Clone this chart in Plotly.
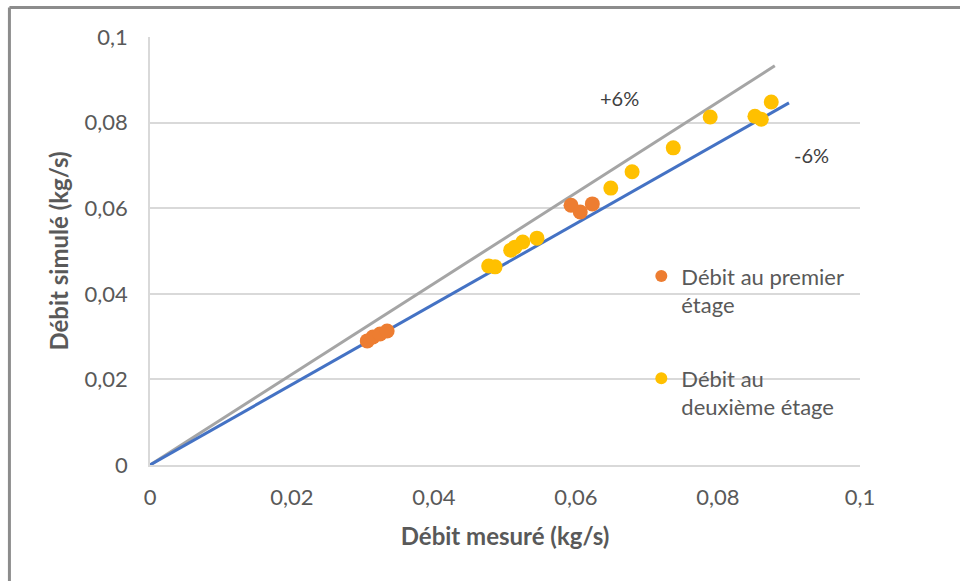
import plotly.graph_objects as go

# Data
x_premier = [0.0306, 0.0314, 0.0324, 0.0334, 0.0593, 0.0606, 0.0623]
y_premier = [0.0290, 0.0299, 0.0306, 0.0313, 0.0607, 0.0591, 0.0610]
x_deuxieme = [0.0477, 0.0486, 0.0508, 0.0514, 0.0525, 0.0545, 0.0649, 0.0679,
              0.0737, 0.0789, 0.0852, 0.0861, 0.0875]
y_deuxieme = [0.0465, 0.0463, 0.0502, 0.0509, 0.0521, 0.0530, 0.0647, 0.0685,
              0.0741, 0.0813, 0.0815, 0.0808, 0.0848]
x_plus6 = [0, 0.088]
y_plus6 = [0, 0.088 * 1.06]
x_moins6 = [0, 0.090]
y_moins6 = [0, 0.090 * 0.94]
tick_vals = [0, 0.02, 0.04, 0.06, 0.08, 0.1]

FONT = "Lato"
TXT = "#595959"

fig = go.Figure()
fig.add_trace(go.Scatter(x=x_plus6, y=y_plus6, mode="lines",
                         line=dict(color="#a5a5a5", width=3), showlegend=False,
                         hoverinfo="skip"))
fig.add_trace(go.Scatter(x=x_moins6, y=y_moins6, mode="lines",
                         line=dict(color="#4472c4", width=3), showlegend=False,
                         hoverinfo="skip"))
fig.add_trace(go.Scatter(x=x_premier, y=y_premier, mode="markers",
                         name="Débit au premier<br>étage", legendgroup="a",
                         marker=dict(color="#ed7d31", size=15)))
fig.add_trace(go.Scatter(x=x_deuxieme, y=y_deuxieme, mode="markers",
                         name="Débit au<br>deuxième étage", legendgroup="b",
                         marker=dict(color="#ffc000", size=15)))

fig.add_annotation(x=0.0661, y=0.0857, text="+6%", showarrow=False,
                   font=dict(size=20, color="#404040", family=FONT))
fig.add_annotation(x=0.0932, y=0.0724, text="-6%", showarrow=False,
                   font=dict(size=20, color="#404040", family=FONT))

# outer frame (top and left edges visible)
fig.add_shape(type="line", xref="paper", yref="paper", x0=-0.198, x1=1.2,
              y0=1.069, y1=1.069, line=dict(color="#8c8c8c", width=3))
fig.add_shape(type="line", xref="paper", yref="paper", x0=-0.198, x1=-0.198,
              y0=1.069, y1=-0.3, line=dict(color="#8c8c8c", width=3))

fig.update_layout(
    width=960, height=581,
    margin=dict(l=150, r=100, t=37, b=116),
    paper_bgcolor="white", plot_bgcolor="white",
    separators=", ",
    font=dict(family=FONT, color=TXT, size=22),
    showlegend=True,
    legend=dict(x=0.692, y=0.49, xanchor="left", yanchor="top",
                font=dict(size=22, color=TXT, family=FONT),
                traceorder="grouped", tracegroupgap=42, valign="top",
                itemsizing="constant", bgcolor="rgba(0,0,0,0)"),
    xaxis=dict(range=[0, 0.1], tickvals=tick_vals, showgrid=False,
               showline=True, linecolor="#d9d9d9", linewidth=1.5,
               zeroline=False, ticks="", ticklabelstandoff=12, automargin=False,
               tickfont=dict(size=22, color=TXT, family=FONT),
               title=dict(text="<b>Débit mesuré (kg/s)</b>", standoff=19,
                          font=dict(size=24, color=TXT, family=FONT))),
    yaxis=dict(range=[0, 0.1], tickvals=tick_vals, showgrid=True,
               gridcolor="#d9d9d9", gridwidth=1.5,
               showline=True, linecolor="#d9d9d9", linewidth=1.5,
               zeroline=False, ticks="", ticklabelstandoff=16, automargin=False,
               tickfont=dict(size=22, color=TXT, family=FONT),
               title=dict(text="<b>Débit simulé (kg/s)</b>", standoff=9,
                          font=dict(size=24, color=TXT, family=FONT))),
)

fig.write_html("out.html", config={"displayModeBar": False},
               post_script="document.body.style.margin='0';"
                           "document.body.style.overflow='hidden';")
